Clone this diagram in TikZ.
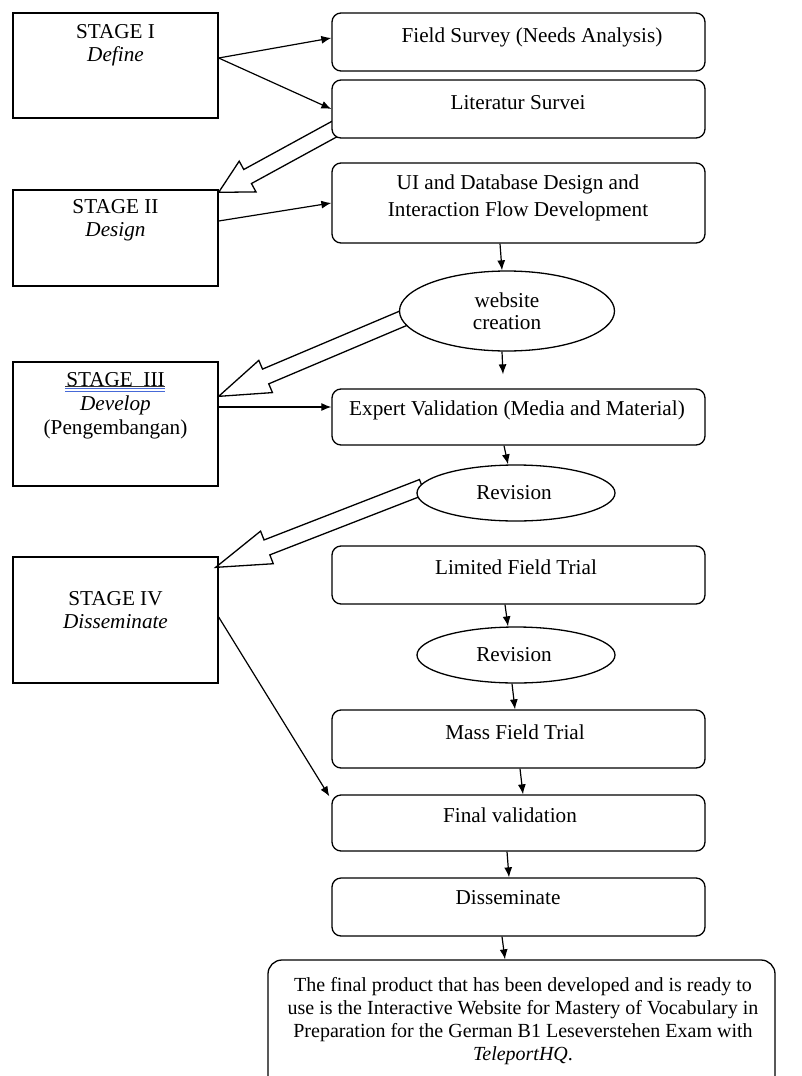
\documentclass[tikz,border=0pt]{standalone}
\usepackage{fontspec}
\setmainfont{Liberation Serif}
\usetikzlibrary{arrows.meta,shapes.geometric,calc,backgrounds}
\newcommand\fsz{\fontsize{21.2}{23}\selectfont}
\definecolor{spellblue}{RGB}{70,105,215}
% tail, tip, head length
\newcommand\fatarrow[3]{%
  \path[fatarr] let \p1=($(#2)-(#1)$), \n1={atan2(\y1,\x1)}, \n2={veclen(\x1,\y1)}, \n3={\n2-#3} in
    ($(#1)+(\n1+90:8pt)$) -- ($(#1)+(\n1:{\n3*1pt})+(\n1+90:8pt)$) --
    ($(#1)+(\n1:{\n3*1pt})+(\n1+90:17.5pt)$) -- (#2) --
    ($(#1)+(\n1:{\n3*1pt})+(\n1-90:17.5pt)$) -- ($(#1)+(\n1:{\n3*1pt})+(\n1-90:8pt)$) --
    ($(#1)+(\n1-90:8pt)$) -- cycle;}
\begin{document}
\begin{tikzpicture}[x=1pt,y=-1pt,
  sbox/.style={draw, line width=1.3pt, minimum width=205pt, inner sep=0pt},
  rbox/.style={draw, line width=1.3pt, rounded corners=9pt, fill=white, minimum width=373pt, inner sep=0pt},
  ell/.style={draw, ellipse, line width=1.3pt, fill=white, inner sep=0pt},
  txt/.style={font=\fsz, align=center, inner sep=0pt},
  arr/.style={-{Latex[length=10pt,width=8pt]}, line width=1.2pt},
  fatarr/.style={draw, line width=1.3pt, fill=white, line join=miter}]
\useasboundingbox (0,0) rectangle (802,1076);

% stage boxes
\node[sbox, minimum height=105pt] (s1) at (115.5,65.5) {};
\node[txt] (s1t) at (115.5,45) {STAGE I\\\textit{Define}};
\node[sbox, minimum height=96pt] (s2) at (115.5,238) {};
\node[txt] (s2t) at (115.5,220) {STAGE II\\\textit{Design}};
\node[sbox, minimum height=124pt] (s3) at (115.5,424) {};
\node[txt, font={\fontsize{21.2}{24}\selectfont}] (s3t) at (115.5,406) {STAGE\ \ III\\\textit{Develop}\\(Pengembangan)};
\node[sbox, minimum height=126pt] (s4) at (115.5,620) {};
\node[txt] (s4t) at (115.5,610) {STAGE IV\\\textit{Disseminate}};
\draw[black!80, line width=0.8pt] (65,386) -- (165,386);
\draw[spellblue, line width=0.9pt] (65,388.5) -- (165,388.5) (65,391.5) -- (165,391.5);

% right column
\node[rbox, minimum height=58pt] (fs) at (518.5,42) {};
\node[txt] (fst) at (532,37) {Field Survey (Needs Analysis)};
\node[rbox, minimum height=58pt] (ls) at (518.5,109) {};
\node[txt] (lst) at (518,103) {Literatur Survei};
\node[rbox, minimum height=80pt] (ui) at (518.5,203) {};
\node[txt, font={\fontsize{21.2}{27}\selectfont}] (uit) at (518,198) {UI and Database Design and\\Interaction Flow Development};
\node[ell, minimum width=215pt, minimum height=80pt] (wc) at (507,311) {};
\node[txt, font={\fontsize{21.2}{22}\selectfont}] (wct) at (507,311) {website\\creation};
\node[rbox, minimum height=56pt] (ev) at (518.5,417) {};
\node[txt] (evt) at (517,410) {Expert Validation (Media and Material)};
\node[ell, minimum width=198pt, minimum height=56pt] (r1) at (516,493) {};
\node[txt] (r1t) at (514,493) {Revision};
\node[rbox, minimum height=58pt] (lf) at (518.5,575) {};
\node[txt] (lft) at (516,567) {Limited Field Trial};
\node[ell, minimum width=198pt, minimum height=56pt] (r2) at (516,655) {};
\node[txt] (r2t) at (514,655) {Revision};
\node[rbox, minimum height=58pt] (mf) at (518.5,739) {};
\node[txt] (mft) at (515,732) {Mass Field Trial};
\node[rbox, minimum height=56pt] (fv) at (518.5,823) {};
\node[txt] (fvt) at (510,815) {Final validation};
\node[rbox, minimum height=58pt] (ds) at (518.5,907) {};
\node[txt] (dst) at (508,898) {Disseminate};
\node[rbox, minimum width=507pt, minimum height=130pt, rounded corners=14pt] (fp) at (521.5,1025) {};
\node[txt, font={\fontsize{20}{23}\selectfont}] (fpt) at (523,1021.5) {The final product that has been developed and is ready to\\use is the Interactive Website for Mastery of Vocabulary in\\Preparation for the German B1 Leseverstehen Exam with\\\textit{TeleportHQ}.};

% thin arrows
\draw[arr] ([yshift=7.5pt]s1.east) -- ([yshift=4pt]fs.west);
\draw[arr] ([yshift=7.5pt]s1.east) -- (ls.west);
\draw[arr] ([yshift=17pt]s2.east) -- (ui.west);
\draw[arr] ([xshift=-18.5pt]ui.south) -- ([xshift=-5pt]wc.north);
\draw[arr] ([xshift=-5pt]wc.south) -- ([xshift=-15.5pt,yshift=14pt]ev.north);
\draw[arr] ([yshift=17pt]s3.east) -- ([yshift=10pt]ev.west);
\draw[arr] ([xshift=-14.5pt]ev.south) -- ([xshift=-8pt]r1.north);
\draw[arr] ([xshift=-13.5pt]lf.south) -- ([xshift=-8pt]r2.north);
\draw[arr] ([xshift=-4pt]r2.south) -- ([xshift=-3.5pt]mf.north);
\draw[arr] ([xshift=1.5pt]mf.south) -- ([xshift=4.5pt]fv.north);
\draw[arr] ([xshift=-11.5pt]fv.south) -- ([xshift=-9.5pt]ds.north);
\draw[arr] ([xshift=-16.5pt]ds.south) -- ([xshift=-16.5pt]fp.north);
\draw[arr] ([yshift=3pt]s4.east) -- ([xshift=-2pt,yshift=-2pt]fv.north west);

% fat hollow arrows
\begin{scope}[on background layer]
\coordinate (fa1) at ([shift={(5pt,-19pt)}]ls.west);
\coordinate (fb1) at ([yshift=-3pt]s2.north east);
\fatarrow{fa1}{fb1}{33}
\coordinate (fa2) at ([shift={(5pt,-7pt)}]wc.west);
\coordinate (fb2) at ([yshift=-35pt]s3.north east);
\fatarrow{fa2}{fb2}{51}
\coordinate (fa3) at ([shift={(6pt,6pt)}]r1.west);
\coordinate (fb3) at ([shift={(-3pt,-11pt)}]s4.north east);
\fatarrow{fa3}{fb3}{55}
\end{scope}
\end{tikzpicture}
\end{document}
